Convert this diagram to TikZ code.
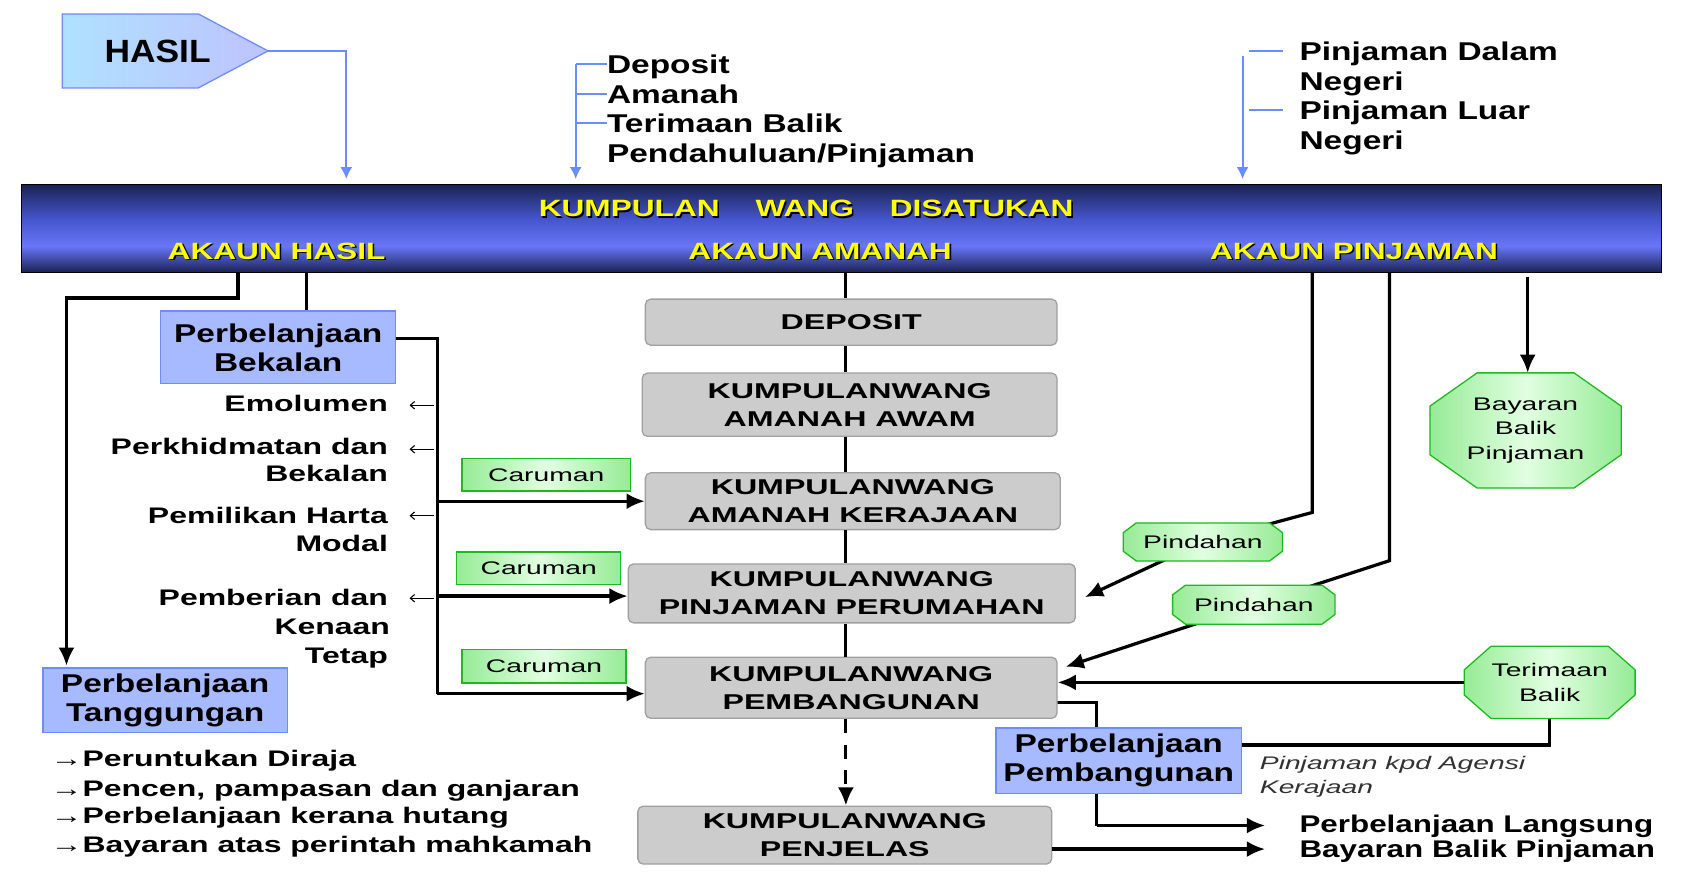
\documentclass[tikz,border=0pt]{standalone}
\usepackage{fontspec}
\setmainfont{Liberation Sans}
\usetikzlibrary{arrows.meta,calc}
\definecolor{navy}{RGB}{26,34,84}
\definecolor{bright}{RGB}{104,118,248}
\definecolor{midb}{RGB}{70,86,205}
\definecolor{bfill}{RGB}{168,186,255}
\definecolor{bline}{RGB}{110,140,255}
\definecolor{hfillA}{RGB}{175,225,255}
\definecolor{hfillB}{RGB}{190,195,255}
\definecolor{gfill}{RGB}{150,235,150}
\definecolor{gmid}{RGB}{225,255,225}
\definecolor{gline}{RGB}{30,185,30}
\definecolor{grfill}{RGB}{204,204,204}
\definecolor{grline}{RGB}{160,160,160}
\definecolor{arrblue}{RGB}{105,140,255}
\definecolor{itgray}{RGB}{50,50,50}
\definecolor{banyellow}{RGB}{255,255,0}
\pgfdeclarelayer{background}
\pgfsetlayers{background,main}
\pgfdeclareverticalshading{bannershade}{100bp}{color(0bp)=(navy); color(25bp)=(navy); color(40bp)=(bright); color(55bp)=(midb); color(75bp)=(navy); color(100bp)=(navy)}
\newcommand\fA{\fontsize{24}{27}\selectfont\bfseries}
\newcommand\fB{\fontsize{21}{26}\selectfont\bfseries}
\newcommand\fC{\fontsize{20}{26}\selectfont\bfseries}
\newcommand\fD{\fontsize{17}{23}\selectfont}
\newcommand\fE{\fontsize{22}{22}\selectfont\bfseries}
\newcommand\fR{\fontsize{22.5}{24}\selectfont\bfseries}
\newcommand\fH{\fontsize{30}{30}\selectfont\bfseries}
\newcommand\fI{\fontsize{17}{22}\selectfont\itshape}
\newcommand\sA[1]{\scalebox{1.3}[1]{#1}}
\newcommand\sB[1]{\scalebox{1.42}[1]{#1}}
\newcommand\sC[1]{\scalebox{1.5}[1]{#1}}
\newcommand\sD[1]{\scalebox{1.55}[1]{#1}}
\newcommand\sE[1]{\scalebox{1.34}[1]{#1}}
\newcommand\octoshape[3]{%
\begin{pgfonlayer}{background}
\draw[draw=gline,line width=1.2pt,left color=gfill,right color=gfill,middle color=gmid]
 ($(#1.north west)+(#2,0)$) -- ($(#1.north east)+(-#2,0)$) -- ($(#1.north east)+(0,#3)$) -- ($(#1.south east)+(0,-#3)$) -- ($(#1.south east)+(-#2,0)$) -- ($(#1.south west)+(#2,0)$) -- ($(#1.south west)+(0,-#3)$) -- ($(#1.north west)+(0,#3)$) -- cycle;
\end{pgfonlayer}}
\begin{document}
\begin{tikzpicture}[x=1pt,y=-1pt,
  blk/.style={line width=3pt},
  blkarr/.style={line width=3pt,-{Latex[length=17pt,width=15pt]}},
  thinarr/.style={line width=1pt,-{Straight Barb[length=4pt,width=7pt]}},
  bluel/.style={draw=arrblue,line width=1.8pt},
  bluearr/.style={bluel,-{Latex[length=11pt,width=11pt]}},
  graybox/.style={draw=grline,line width=1.2pt,fill=grfill,rounded corners=5pt,inner sep=0pt,align=center,font=\fC},
  bluebox/.style={draw=bline,line width=1.2pt,fill=bfill,inner sep=0pt,align=center,font=\fA},
  greenbox/.style={draw=gline,line width=1.2pt,left color=gfill,right color=gfill,middle color=gmid,inner sep=0pt,align=center,font=\fD},
  octtext/.style={inner sep=0pt,align=center,font=\fD},
  lblA/.style={inner sep=0pt,font=\fA,text height=17.3pt,text depth=0pt,anchor=west},
  lblB/.style={inner sep=0pt,font=\fB,text height=15.1pt,text depth=0pt},
  lblR/.style={inner sep=0pt,font=\fR,text height=16.2pt,text depth=0pt,anchor=west},
  lblI/.style={inner sep=0pt,font=\fI,text height=12.2pt,text depth=0pt,anchor=west,text=itgray},
  ban/.style={inner sep=0pt,font=\fE,text height=15.8pt,text depth=0pt,text=banyellow},
  banshadow/.style={ban,text=black},
]
\useasboundingbox (0,0) rectangle (1568,820);
\begin{pgfonlayer}{background}
\fill[white] (0,0) rectangle (1568,820);
\end{pgfonlayer}

% ---------- HASIL pentagon ----------
\draw[draw=bline,line width=1.2pt,left color=hfillA,right color=hfillB]
  (58,13) -- (185,13) -- (250,47.5) -- (185,82) -- (58,82) -- cycle;
\coordinate (hasiltip) at (250,47.5);
\node[inner sep=0pt,font=\fH,text height=21.5pt,text depth=0pt] (hasil) at (147,48) {\scalebox{1.1}[1]{HASIL}};
\coordinate (hasilin) at (323,167);
\draw[bluearr] (hasiltip) -| (hasilin);

% ---------- Deposit bracket ----------
\node[lblA] (tdep) at (566,60) {\sA{Deposit}};
\node[lblA] (tam) at (566,88) {\sA{Amanah}};
\node[lblA] (tter) at (566,115) {\sA{Terimaan Balik}};
\node[lblA] (tpen) at (566,143) {\sA{Pendahuluan/Pinjaman}};
\coordinate (dv) at (537,60);
\coordinate (depin) at (537,167);
\draw[bluearr] (dv) -- (depin);
\draw[bluel] (dv) -- (tdep.west);
\draw[bluel] (dv |- tam.west) -- (tam.west);
\draw[bluel] (dv |- tter.west) -- (tter.west);

% ---------- Pinjaman bracket ----------
\node[lblA] (tpd1) at (1212,48) {\sA{Pinjaman Dalam}};
\node[lblA] (tpd2) at (1212,76) {\sA{Negeri}};
\node[lblA] (tpl1) at (1212,103) {\sA{Pinjaman Luar}};
\node[lblA] (tpl2) at (1212,131) {\sA{Negeri}};
\coordinate (pv) at (1159,52);
\coordinate (pinin) at (1159,167);
\draw[bluearr] (pv) -- (pinin);
\coordinate (pt1a) at (1165,48);
\coordinate (pt1b) at (1197,48);
\coordinate (pt2a) at (1165,103);
\coordinate (pt2b) at (1197,103);
\draw[bluel] (pt1a) -- (pt1b);
\draw[bluel] (pt2a) -- (pt2b);

% ---------- Banner ----------
\node[shade,shading=bannershade,draw=black,line width=1pt,minimum width=1530pt,minimum height=82pt,inner sep=0pt] (banner) at (785,213) {};
\node[banshadow] (kwds) at (753.5,195.5) {\sE{KUMPULAN\hspace{25pt}WANG\hspace{25pt}DISATUKAN}};
\node[ban] (kwd) at (752,194) {\sE{KUMPULAN\hspace{25pt}WANG\hspace{25pt}DISATUKAN}};
\node[banshadow] (ahs) at (259.5,235.5) {\sE{AKAUN HASIL}};
\node[ban] (ah) at (258,234) {\sE{AKAUN HASIL}};
\node[banshadow] (aas) at (766.5,235.5) {\sE{AKAUN AMANAH}};
\node[ban] (aa) at (765,234) {\sE{AKAUN AMANAH}};
\node[banshadow] (aps) at (1264.5,235.5) {\sE{AKAUN PINJAMAN}};
\node[ban] (ap) at (1263,234) {\sE{AKAUN PINJAMAN}};

% ---------- Blue boxes ----------
\node[bluebox,minimum width=219pt,minimum height=68pt] (bek) at (259.5,324) {\sA{Perbelanjaan}\\\sA{Bekalan}};
\node[bluebox,minimum width=228pt,minimum height=60pt] (tang) at (154,653) {\sA{Perbelanjaan}\\\sA{Tanggungan}};
\node[bluebox,minimum width=229pt,minimum height=61pt] (ppemb) at (1043.5,709.5) {\sA{Perbelanjaan}\\\sA{Pembangunan}};

% ---------- Gray boxes ----------
\node[graybox,minimum width=384pt,minimum height=43pt] (dep) at (794,300.5) {\sC{DEPOSIT}};
\node[graybox,minimum width=387pt,minimum height=59pt] (awam) at (792.5,377.5) {\sC{KUMPULANWANG}\\\sC{AMANAH AWAM}};
\node[graybox,minimum width=387pt,minimum height=53pt] (kera) at (795.5,467.5) {\sC{KUMPULANWANG}\\\sC{AMANAH KERAJAAN}};
\node[graybox,minimum width=417pt,minimum height=55pt] (perum) at (794.5,553.5) {\sC{KUMPULANWANG}\\\sC{PINJAMAN PERUMAHAN}};
\node[graybox,minimum width=384pt,minimum height=57pt] (pemb) at (794,641.5) {\sC{KUMPULANWANG}\\\sC{PEMBANGUNAN}};
\node[graybox,minimum width=386pt,minimum height=54pt] (penj) at (788,779) {\sC{KUMPULANWANG}\\\sC{PENJELAS}};

% ---------- Caruman ----------
\node[greenbox,minimum width=157pt,minimum height=30pt] (car1) at (509.5,443) {\sD{Caruman}};
\node[greenbox,minimum width=153pt,minimum height=30pt] (car2) at (502.5,530) {\sD{Caruman}};
\node[greenbox,minimum width=153pt,minimum height=31pt] (car3) at (507.5,621.5) {\sD{Caruman}};

% ---------- Octagon nodes ----------
\node[octtext,minimum width=148pt,minimum height=35pt] (pind1) at (1122,505.5) {\sD{Pindahan}};
\node[octtext,minimum width=151pt,minimum height=36pt] (pind2) at (1169.5,564) {\sD{Pindahan}};
\node[octtext,minimum width=178pt,minimum height=107pt] (bay) at (1423,401.5) {\sD{Bayaran}\\\sD{Balik}\\\sD{Pinjaman}};
\node[octtext,minimum width=159pt,minimum height=67pt] (terim) at (1445.5,636.5) {\sD{Terimaan}\\\sD{Balik}};

% ---------- Left labels ----------
\node[lblB,anchor=east] (lem) at (362,376) {\sB{Emolumen}};
\node[lblB,anchor=east] (lpk1) at (362,416) {\sB{Perkhidmatan dan}};
\node[lblB,anchor=east] (lpk2) at (362,442) {\sB{Bekalan}};
\node[lblB,anchor=east] (lph1) at (362,481) {\sB{Pemilikan Harta}};
\node[lblB,anchor=east] (lph2) at (362,507) {\sB{Modal}};
\node[lblB,anchor=east] (lpb1) at (362,557) {\sB{Pemberian dan}};
\node[lblB,anchor=east] (lpb2) at (364,584) {\sB{Kenaan}};
\node[lblB,anchor=east] (lpb3) at (362,611) {\sB{Tetap}};

% ---------- Bottom list ----------
\node[lblB,anchor=west] (bl1) at (47,707) {\sB{→Peruntukan Diraja}};
\node[lblB,anchor=west] (bl2) at (47,735) {\sB{→Pencen, pampasan dan ganjaran}};
\node[lblB,anchor=west] (bl3) at (47,761) {\sB{→Perbelanjaan kerana hutang}};
\node[lblB,anchor=west] (bl4) at (47,788) {\sB{→Bayaran atas perintah mahkamah}};

% ---------- Right labels ----------
\node[lblI] (ita1) at (1175,712) {\sD{Pinjaman kpd Agensi}};
\node[lblI] (ita2) at (1175,734) {\sD{Kerajaan}};
\node[lblR] (rl1) at (1212,768) {\sA{Perbelanjaan Langsung}};
\node[lblR] (rl2) at (1212,792) {\sA{Bayaran Balik Pinjaman}};

% ---------- Connectors ----------
\coordinate (b1) at (222,254);
\coordinate (b1c) at (222,278);
\coordinate (c1) at (62,278);
\coordinate (tangin) at (62,621);
\draw[blkarr] (b1) -- (b1c) -- (c1) -- (tangin);
\coordinate (b2) at (286,254);
\draw[blk] (b2) -- (b2 |- bek.north);

\coordinate (sp) at (789,254);
\draw[blk] (sp) -- (sp |- dep.north);
\draw[blk] (sp |- dep.south) -- (sp |- awam.north);
\draw[blk] (sp |- awam.south) -- (sp |- kera.north);
\draw[blk] (sp |- kera.south) -- (sp |- perum.north);
\draw[blk] (sp |- perum.south) -- (sp |- pemb.north);
\draw[blkarr,dash pattern=on 13pt off 11pt] (sp |- pemb.south) -- (sp |- penj.north);

\coordinate (bekout) at (369,316);
\coordinate (vtop) at (408,316);
\coordinate (vbot) at (408,647);
\draw[blk] (bekout) -- (vtop) -- (vbot);
\draw[blkarr] (vbot) -- (vbot -| pemb.west);
\coordinate (v1) at (408,467.5);
\draw[blkarr] (v1) -- (v1 -| kera.west);
\coordinate (v2) at (408,556);
\draw[blkarr] (v2) -- (v2 -| perum.west);

\coordinate (e1) at (405,378);
\coordinate (e1t) at (382,378);
\coordinate (e2) at (405,419);
\coordinate (e2t) at (382,419);
\coordinate (e3) at (405,481);
\coordinate (e3t) at (382,481);
\coordinate (e4) at (405,558);
\coordinate (e4t) at (382,558);
\draw[thinarr] (e1) -- (e1t);
\draw[thinarr] (e2) -- (e2t);
\draw[thinarr] (e3) -- (e3t);
\draw[thinarr] (e4) -- (e4t);

\coordinate (r1) at (1224,254);
\coordinate (r1b) at (1224,478);
\coordinate (t1) at (1012,557);
\coordinate (r2) at (1296,254);
\coordinate (r2b) at (1296,523);
\coordinate (t2) at (994,622);
\coordinate (r3) at (1425,258);
\coordinate (tby) at (0,695);
\coordinate (pe1) at (986,655);
\coordinate (pe2) at (1023,655);
\coordinate (pe3) at (1023,770);
\coordinate (pe4) at (1180,770);
\coordinate (pj1) at (981,792);
\coordinate (pj2) at (1180,792);

\begin{pgfonlayer}{background}
\draw[blk] (r1) -- (r1b) -- (pind1.center);
\draw[blkarr] (pind1.center) -- (t1);
\draw[blk] (r2) -- (r2b) -- (pind2.center);
\draw[blkarr] (pind2.center) -- (t2);
\draw[blk] (pe1) -- (pe2) -- (pe3);
\draw[blkarr] (pe3) -- (pe4);
\end{pgfonlayer}
\octoshape{pind1}{12}{9}
\octoshape{pind2}{12}{9}
\octoshape{bay}{44}{31}
\octoshape{terim}{25}{22}

\draw[blkarr] (r3) -- (r3 |- bay.north);
\draw[blkarr] (terim.west) -- (terim.west -| pemb.east);
\draw[blk] (terim.south) -- (terim.south |- tby) -- (tby -| ppemb.east);
\draw[blkarr] (pj1) -- (pj2);
\end{tikzpicture}
\end{document}
